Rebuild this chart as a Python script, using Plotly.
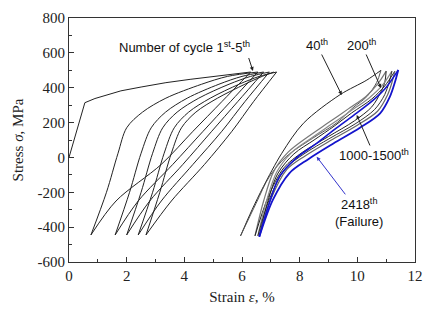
import plotly.graph_objects as go

# ---------------- data (strain %, stress MPa) ----------------
# first loading
load0_strain = [0.0, 0.36, 0.55, 0.9, 1.3, 1.8, 2.5, 3.36, 4.2, 5.0, 5.7, 6.3]
load0_stress = [0, 196, 314, 338, 358, 382, 404, 429, 448, 465, 479, 490]

# unloading branches of cycles 1-5 (peak -> valley)
unload_stress = [490, 320, 150, -40, -250, -445]
unload1_strain = [6.3, 5.3, 4.3, 3.2, 1.63, 0.76]
unload2_strain = [6.55, 5.6, 4.65, 3.6, 2.4, 1.60]
unload3_strain = [6.75, 5.85, 4.95, 3.95, 2.8, 2.0]
unload4_strain = [6.95, 6.1, 5.3, 4.3, 3.2, 2.4]
unload5_strain = [7.2, 6.4, 5.65, 4.7, 3.55, 2.67]

# reloading branches (valley -> next peak)
reload_stress = [-445, -200, 24, 170, 260, 340, 420, 465, 490]
reload1_strain = [0.76, 1.3, 1.7, 2.0, 2.55, 3.36, 4.6, 5.5, 6.55]
reload2_strain = [1.60, 2.1, 2.5, 2.85, 3.35, 4.1, 5.2, 6.0, 6.75]
reload3_strain = [2.0, 2.5, 2.9, 3.25, 3.75, 4.5, 5.55, 6.3, 6.95]
reload4_strain = [2.4, 2.9, 3.3, 3.65, 4.15, 4.9, 5.9, 6.6, 7.2]
reload5_strain = [2.67, 3.15, 3.55, 3.9, 4.4, 5.15, 6.1, 6.7, 7.1]

# 40th cycle loop
c40_up_strain = [5.95, 6.35, 6.74, 7.38, 8.13, 9.4, 10.33, 10.82]
c40_up_stress = [-450, -300, -168, 24, 196, 360, 444, 500]
c40_lo_strain = [5.95, 6.49, 6.95, 7.53, 8.45, 9.3, 9.85, 10.33, 10.67, 10.82]
c40_lo_stress = [-450, -263, -110, 4, 110, 200, 285, 349, 430, 500]

# 200th cycle loop
c200_up_strain = [6.45, 6.75, 7.1, 7.6, 8.3, 9.0, 9.7, 10.3, 10.7, 11.0]
c200_up_stress = [-450, -250, -80, 30, 120, 200, 280, 350, 420, 495]
c200_lo_strain = [6.45, 6.9, 7.45, 8.1, 9.0, 9.9, 10.5, 10.8, 10.95, 11.0]
c200_lo_stress = [-450, -230, -60, 30, 120, 210, 290, 370, 430, 495]

# 1000th cycle loop
c1000_up_strain = [6.55, 6.85, 7.2, 7.7, 8.4, 9.1, 9.8, 10.4, 10.85, 11.2]
c1000_up_stress = [-450, -250, -85, 25, 110, 190, 270, 340, 410, 495]
c1000_lo_strain = [6.55, 6.95, 7.5, 8.15, 9.05, 9.95, 10.6, 10.95, 11.1, 11.2]
c1000_lo_stress = [-450, -240, -65, 20, 110, 195, 275, 360, 430, 495]

# 1500th cycle loop
c1500_up_strain = [6.6, 6.9, 7.25, 7.8, 8.5, 9.2, 9.8, 10.5, 10.95, 11.3]
c1500_up_stress = [-450, -250, -90, 20, 100, 180, 255, 335, 410, 495]
c1500_lo_strain = [6.6, 7.0, 7.55, 8.2, 9.1, 10.0, 10.7, 11.05, 11.2, 11.3]
c1500_lo_stress = [-450, -240, -70, 10, 100, 185, 265, 360, 430, 495]

# 2418th cycle loop (failure)
c2418_up_strain = [6.6, 6.95, 7.3, 7.87, 8.5, 9.2, 9.86, 10.56, 11.02, 11.42]
c2418_up_stress = [-455, -260, -110, -5, 70, 160, 240, 330, 406, 502]
c2418_lo_strain = [6.6, 7.07, 7.64, 8.3, 9.17, 10.09, 10.79, 11.13, 11.3, 11.42]
c2418_lo_stress = [-455, -244, -91, -10, 80, 170, 253, 349, 430, 502]

x_ticks = [0, 2, 4, 6, 8, 10, 12]
x_tick_labels = ["0", "2", "4", "6", "8", "10", "12"]
y_ticks = [-600, -400, -200, 0, 200, 400, 600, 800]
y_tick_labels = ["-600", "-400", "-200", "0", "200", "400", "600", "800"]

# ---------------- figure ----------------
fig = go.Figure()

def add(xs, ys, color="#222222", width=1.0, shape="spline"):
    line = dict(color=color, width=width, shape=shape)
    if shape == "spline":
        line["smoothing"] = 0.9
    fig.add_trace(go.Scatter(x=xs, y=ys, mode="lines", line=line,
                             showlegend=False, hoverinfo="skip"))

add(load0_strain, load0_stress, shape="linear")
for s in [unload1_strain, unload2_strain, unload3_strain, unload4_strain, unload5_strain]:
    add(s, unload_stress)
for s in [reload1_strain, reload2_strain, reload3_strain, reload4_strain, reload5_strain]:
    add(s, reload_stress)

add(c40_up_strain, c40_up_stress, "#222222", 1.0)
add(c40_lo_strain, c40_lo_stress, "#555555", 1.0)
add(c200_up_strain, c200_up_stress, "#777777", 1.2)
add(c200_lo_strain, c200_lo_stress, "#222222", 1.0)
add(c1000_up_strain, c1000_up_stress, "#888888", 1.2)
add(c1000_lo_strain, c1000_lo_stress, "#333333", 1.0)
add(c1500_up_strain, c1500_up_stress, "#222222", 1.0)
add(c1500_lo_strain, c1500_lo_stress, "#666666", 1.2)
add(c2418_up_strain, c2418_up_stress, "#1414cc", 1.6)
add(c2418_lo_strain, c2418_lo_stress, "#1414cc", 1.8)

sans = "Liberation Sans, Arial, sans-serif"
serif = "Liberation Serif, Times New Roman, serif"
afont = dict(family=sans, size=13, color="#111111")

def pointer(x, y, tx, ty, text, color="#222222"):
    fig.add_annotation(x=x, y=y, ax=tx, ay=ty, xref="x", yref="y", axref="x", ayref="y",
                       text=text, showarrow=True, arrowhead=2, arrowsize=0.8,
                       arrowwidth=1, arrowcolor=color, font=afont, standoff=0)

fig.add_annotation(x=4.0, y=634, text="Number of cycle 1<sup>st</sup>-5<sup>th</sup>",
                   showarrow=False, font=afont)
fig.add_annotation(x=6.38, y=496, ax=6.21, ay=582, xref="x", yref="y", axref="x", ayref="y",
                   text=" ", showarrow=True, arrowhead=2, arrowsize=0.8, arrowwidth=1,
                   arrowcolor="#222222", font=dict(size=1))
pointer(9.46, 358, 8.6, 645, "40<sup>th</sup>")
pointer(10.82, 398, 10.16, 645, "200<sup>th</sup>")
pointer(9.98, 244, 10.58, 14, "1000-1500<sup>th</sup>")
pointer(8.59, 4, 10.06, -315, "2418<sup>th</sup><br>(Failure)", "#3333cc")

axis_common = dict(showline=True, linecolor="#333333", linewidth=1, mirror=True,
                   ticks="inside", ticklen=5, tickcolor="#333333", showgrid=False,
                   zeroline=False, automargin=False,
                   tickfont=dict(family=serif, size=15, color="#222222"))

fig.update_xaxes(range=[0, 12], tickvals=x_ticks, ticktext=x_tick_labels, **axis_common,
                 minor=dict(ticks="inside", ticklen=3, dtick=1, tickcolor="#333333"),
                 title=dict(text="Strain <i>ε</i>, %", font=dict(family=serif, size=15, color="#222222"),
                            standoff=8))
fig.update_yaxes(range=[-600, 800], tickvals=y_ticks, ticktext=y_tick_labels, **axis_common,
                 minor=dict(ticks="inside", ticklen=3, dtick=100, tickcolor="#333333"),
                 title=dict(text="Stress <i>σ</i>, MPa", font=dict(family=serif, size=15, color="#222222"),
                            standoff=10))

# the page body adds an 8 px offset, so the figure is sized to end at the window edge
fig.update_layout(width=426, height=306, margin=dict(l=61, r=19, t=10, b=52),
                  paper_bgcolor="white", plot_bgcolor="white")

fig.write_html("out.html")
